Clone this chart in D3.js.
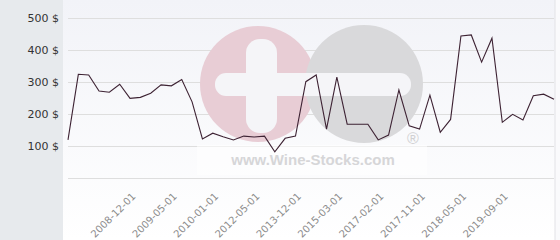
<!DOCTYPE html>
<html>
<head>
<meta charset="utf-8">
<script src="https://cdn.jsdelivr.net/npm/d3@7"></script>
<style>
  html, body { margin: 0; padding: 0; background: #fafafc; }
  svg { display: block; }
</style>
</head>
<body>
<div id="chart"></div>
<script>
  // price per sale, one point per auction date
  let prices = [119, 324, 322, 272, 268, 293, 249, 252, 265, 291, 288, 308,
    238, 122, 140, 129, 119, 131, 128, 131, 82, 124, 131, 301,
    322, 153, 315, 168, 168, 168, 119, 134, 275, 163, 153, 259,
    143, 183, 444, 447, 362, 437, 174, 199, 181, 257, 262, 246];

  // only every 4th date is labelled on the axis
  let tickLabels = ['2008-12-01', '2009-05-01', '2010-01-01', '2012-05-01', '2013-12-01',
    '2015-03-01', '2017-02-01', '2017-11-01', '2018-05-01', '2019-09-01'];
  let firstTick = 6;
  let tickStep = 4;

  let yTicks = [0, 100, 200, 300, 400, 500];

  let width = 560;
  let height = 240;
  let plotLeft = 63;
  let plotRight = 555;

  let svg = d3.select('#chart')
    .append('svg')
    .attr('width', width)
    .attr('height', height);

  let defs = svg.append('defs');
  let grad = defs.append('linearGradient')
    .attr('id', 'plotBg')
    .attr('x1', 0).attr('y1', 0).attr('x2', 0).attr('y2', 1);
  grad.append('stop').attr('offset', '0%').attr('stop-color', '#f2f3f8');
  grad.append('stop').attr('offset', '100%').attr('stop-color', '#ffffff');

  // left label panel and plot background
  svg.append('rect')
    .attr('x', 0).attr('y', 0)
    .attr('width', plotLeft).attr('height', height)
    .attr('fill', '#e7eaed');

  svg.append('rect')
    .attr('x', plotLeft).attr('y', 0)
    .attr('width', plotRight - plotLeft).attr('height', height)
    .attr('fill', 'url(#plotBg)');

  svg.append('line')
    .attr('x1', plotRight).attr('x2', plotRight)
    .attr('y1', 0).attr('y2', height)
    .attr('stroke', '#e2e2e6');

  let x = d3.scalePoint()
    .domain(d3.range(prices.length))
    .range([68, 554]);

  let y = d3.scaleLinear()
    .domain([0, 500])
    .range([178, 18]);

  // gridlines
  let grid = svg.append('g')
    .attr('transform', 'translate(68,0)')
    .call(d3.axisLeft(y).tickValues(yTicks).tickSize(-(554 - 68)).tickFormat(''));
  grid.select('.domain').remove();
  grid.selectAll('line').attr('stroke', '#dedede');

  // watermark logo
  let logo = svg.append('g');
  logo.append('circle')
    .attr('cx', 258).attr('cy', 84).attr('r', 58)
    .attr('fill', '#e8cdd5');
  logo.append('circle')
    .attr('cx', 364).attr('cy', 84).attr('r', 59)
    .attr('fill', '#d9d9db');
  logo.append('rect')
    .attr('x', 215).attr('y', 73)
    .attr('width', 196).attr('height', 23)
    .attr('rx', 11)
    .attr('fill', '#f5f5f8');
  logo.append('rect')
    .attr('x', 246).attr('y', 39)
    .attr('width', 31).attr('height', 94)
    .attr('rx', 14)
    .attr('fill', '#f5f5f8');
  logo.append('rect')
    .attr('x', 197).attr('y', 145)
    .attr('width', 230).attr('height', 30)
    .attr('fill', '#ffffff')
    .attr('opacity', 0.55);
  logo.append('text')
    .attr('x', 313).attr('y', 165)
    .attr('text-anchor', 'middle')
    .attr('font-family', 'Liberation Sans, Arial, sans-serif')
    .attr('font-weight', 'bold')
    .attr('font-size', 15)
    .attr('fill', '#d6d6d8')
    .text('www.Wine-Stocks.com');
  logo.append('text')
    .attr('x', 413).attr('y', 144)
    .attr('text-anchor', 'middle')
    .attr('font-family', 'Liberation Sans, Arial, sans-serif')
    .attr('font-size', 16)
    .attr('fill', '#d0d0d2')
    .text('®');

  // y labels, 0 is left out like the original
  let yAxis = svg.append('g')
    .attr('transform', 'translate(59,0)')
    .call(d3.axisLeft(y).tickValues(yTicks.filter((d) => d > 0)).tickSize(0).tickPadding(0)
      .tickFormat((d) => d + ' $'));
  yAxis.select('.domain').remove();
  yAxis.selectAll('text')
    .attr('font-family', 'DejaVu Sans, sans-serif')
    .attr('font-size', 11)
    .attr('fill', '#333')
    .attr('dy', '0.35em');

  // x labels
  let tickIdx = tickLabels.map((d, i) => firstTick + i * tickStep);
  let xAxis = svg.append('g')
    .attr('transform', 'translate(0,190)')
    .call(d3.axisBottom(x).tickValues(tickIdx).tickSize(0)
      .tickFormat((d, i) => tickLabels[i]));
  xAxis.select('.domain').remove();
  xAxis.selectAll('text')
    .attr('font-family', 'DejaVu Sans, sans-serif')
    .attr('font-size', 10)
    .attr('fill', '#8c8c8c')
    .attr('text-anchor', 'end')
    .attr('transform', 'rotate(-45)')
    .attr('dx', '-0.1em')
    .attr('dy', '0.6em');

  // price line
  let line = d3.line()
    .x((d, i) => x(i))
    .y((d) => y(d));

  svg.append('path')
    .datum(prices)
    .attr('d', line)
    .attr('fill', 'none')
    .attr('stroke', '#3d2233')
    .attr('stroke-width', 1.1)
    .attr('stroke-linejoin', 'miter');
</script>
</body>
</html>
